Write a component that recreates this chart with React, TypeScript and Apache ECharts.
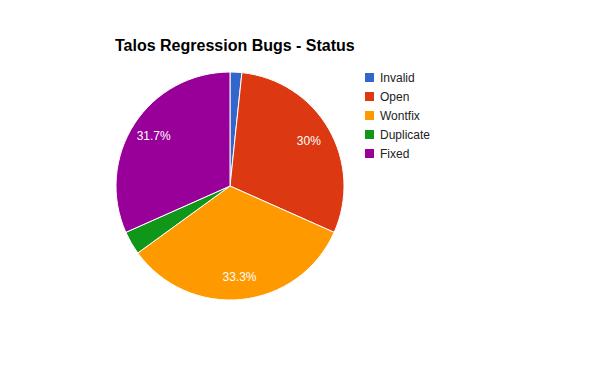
import React, { useEffect, useRef } from "react";
import * as echarts from "echarts";

const categories = ["Invalid", "Open", "Wontfix", "Duplicate", "Fixed"];
const counts = [1, 18, 20, 2, 19];
const colors = ["#3366cc", "#dc3912", "#ff9900", "#109618", "#990099"];
const titleText = "Talos Regression Bugs - Status";

export default function App() {
  const ref = useRef<HTMLDivElement>(null);
  useEffect(() => {
    if (!ref.current) return;
    const chart = echarts.init(ref.current, undefined, { renderer: "svg" });
    const total = counts.reduce((a, b) => a + b, 0);
    const data = categories.map((name, i) => ({ name, value: counts[i] }));
    chart.setOption({
      animation: false,
      backgroundColor: "#ffffff",
      color: colors,
      title: {
        text: titleText,
        left: 107,
        top: 29,
        padding: 0,
        textStyle: { fontFamily: "Liberation Sans, Arial", fontSize: 16, fontWeight: "bold", color: "#000" },
      },
      legend: {
        orient: "vertical",
        left: 355,
        top: 63,
        padding: 0,
        icon: "rect",
        itemWidth: 11,
        itemHeight: 11,
        itemGap: 6,
        data: categories,
        textStyle: { fontFamily: "Liberation Sans, Arial", fontSize: 12, color: "#222", lineHeight: 12 },
      },
      series: [
        {
          type: "pie",
          center: [222, 178],
          radius: [0, 114],
          startAngle: 90,
          clockwise: true,
          data,
          label: { show: false },
          labelLine: { show: false },
          itemStyle: { borderColor: "#ffffff", borderWidth: 1 },
          emphasis: { disabled: true },
          silent: true,
        },
        {
          type: "pie",
          center: [222, 178],
          radius: [62, 114],
          startAngle: 90,
          clockwise: true,
          data,
          legendHoverLink: false,
          itemStyle: { color: "rgba(0,0,0,0)", borderWidth: 0 },
          label: {
            show: true,
            position: "inside",
            color: "#ffffff",
            fontFamily: "Liberation Sans, Arial",
            fontSize: 12,
            formatter: (p: any) => {
              const pct = (p.value / total) * 100;
              if (pct < 5) return "";
              const r = Math.round(pct * 10) / 10;
              return r + "%";
            },
          },
          labelLine: { show: false },
          emphasis: { disabled: true },
          silent: true,
        },
      ],
    });
    return () => chart.dispose();
  }, []);
  return <div ref={ref} style={{ width: 600, height: 371 }} />;
}
